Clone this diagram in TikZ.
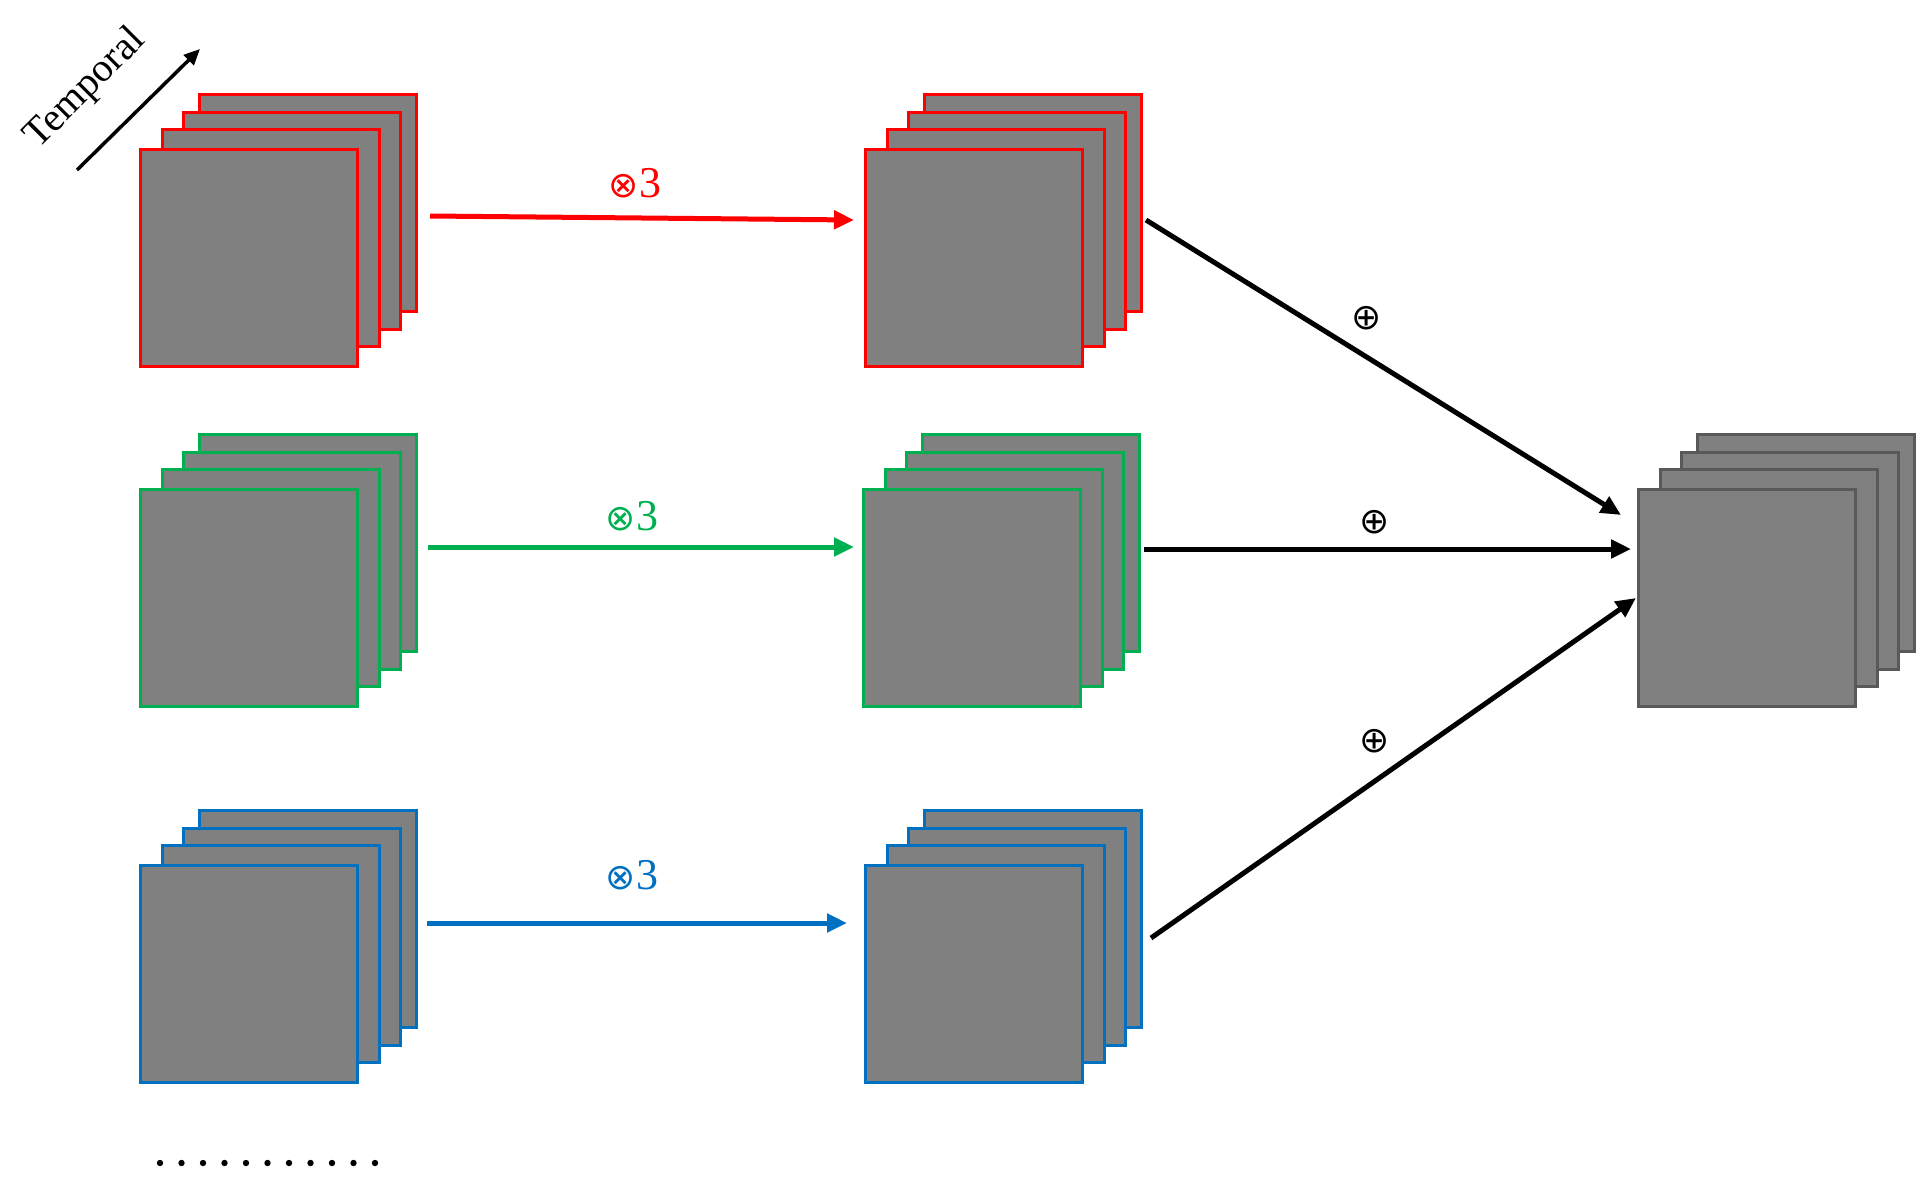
\documentclass[tikz,border=0pt]{standalone}
\usepackage{fontspec}
\setmainfont{Liberation Serif}
\newfontfamily\symf{DejaVu Sans}
\usetikzlibrary{arrows.meta}
\definecolor{cr}{HTML}{FF0000}
\definecolor{cg}{HTML}{00B050}
\definecolor{cb}{HTML}{0070C0}
\definecolor{cgr}{HTML}{595959}
\definecolor{fillg}{HTML}{808080}
\tikzset{
 frame/.style={draw=#1,fill=fillg,line width=2.6pt,minimum size=217pt,inner sep=0pt,anchor=north west},
 arr/.style={draw=#1,line width=5pt,-{Triangle[length=20pt,width=18pt]}},
 lbl/.style={font=\fontsize{44}{44}\selectfont,text=#1},
}
\newcommand{\mystack}[4]{%
 \node[frame=#3] (#4d) at (#1+59,#2-55) {};
 \node[frame=#3] (#4c) at (#1+43,#2-37) {};
 \node[frame=#3] (#4b) at (#1+22,#2-20) {};
 \node[frame=#3] (#4) at (#1,#2) {};}
\begin{document}
\begin{tikzpicture}[x=1pt,y=-1pt]
\useasboundingbox (0,0) rectangle (1926,1186);
\mystack{139}{148}{cr}{a1}
\mystack{139}{488}{cg}{a2}
\mystack{139}{864}{cb}{a3}
\mystack{864}{148}{cr}{b1}
\mystack{862}{488}{cg}{b2}
\mystack{864}{864}{cb}{b3}
\mystack{1637}{488}{cgr}{c}
\coordinate (r1) at (430,216); \coordinate (r2) at (854,220);
\coordinate (g1) at (428,547); \coordinate (g2) at (854,547);
\coordinate (u1) at (427,923); \coordinate (u2) at (847,923);
\coordinate (k1) at (1146,220); \coordinate (k2) at (1621,515);
\coordinate (m1) at (1144,549); \coordinate (m2) at (1631,549);
\coordinate (n1) at (1151,938); \coordinate (n2) at (1636,598);
\draw[arr=cr] (r1) -- (r2);
\draw[arr=cg] (g1) -- (g2);
\draw[arr=cb] (u1) -- (u2);
\draw[arr=black] (k1) -- (k2);
\draw[arr=black] (m1) -- (m2);
\draw[arr=black] (n1) -- (n2);
\node[lbl=cr] (l1) at (635,183) {{\symf\fontsize{36}{36}\selectfont ⊗}3};
\node[lbl=cg] (l2) at (632,516) {{\symf\fontsize{36}{36}\selectfont ⊗}3};
\node[lbl=cb] (l3) at (632,875) {{\symf\fontsize{36}{36}\selectfont ⊗}3};
\node[lbl=black] (p1) at (1367,318) {{\symf\fontsize{36}{36}\selectfont ⊕}};
\node[lbl=black] (p2) at (1375,522) {{\symf\fontsize{36}{36}\selectfont ⊕}};
\node[lbl=black] (p3) at (1375,741) {{\symf\fontsize{36}{36}\selectfont ⊕}};
\coordinate (t1) at (77,170); \coordinate (t2) at (200,49);
\draw[line width=3.5pt,-{Triangle[length=16pt,width=14pt]}] (t1) -- (t2);
\node[font=\fontsize{40}{40}\selectfont,rotate=45] (tl) at (86,89) {Temporal};
\foreach \i in {0,...,10} \fill (160+\i*21.5,1163) circle (3.2);
\end{tikzpicture}
\end{document}
